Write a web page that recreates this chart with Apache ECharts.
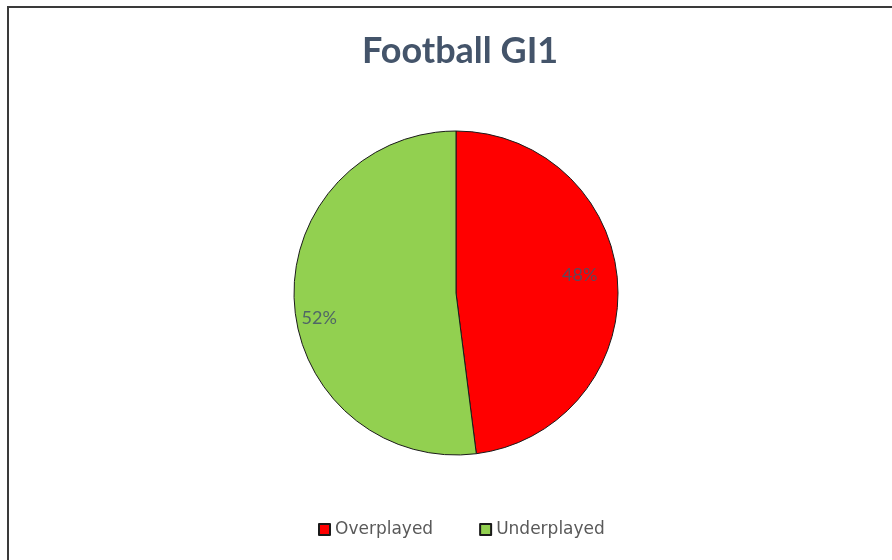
<!DOCTYPE html>
<html>
<head>
<meta charset="utf-8">
<script src="https://cdn.jsdelivr.net/npm/echarts@6/dist/echarts.min.js"></script>
<style>
  html, body { margin: 0; padding: 0; background: #fff; }
  #frame {
    position: absolute; left: 7px; top: 6px; width: 900px; height: 570px;
    border-left: 2px solid #3a3a3a; border-top: 2px solid #3a3a3a;
  }
  #chart { position: absolute; left: 0; top: 0; width: 892px; height: 560px; }
</style>
</head>
<body>
<div id="frame"></div>
<div id="chart"></div>
<script>
var categories = ['Overplayed', 'Underplayed']
var values = [48, 52]
var colors = ['#FF0000', '#92D050']

var pieData = categories.map(function (name, i) {
  return { name: name, value: values[i], itemStyle: { color: colors[i] } }
})

// small nudges so labels sit where Excel put them
var labelShift = [[-9, -9], [-4, 17]]

var myChart = echarts.init(document.getElementById('chart'))
var option = {
  animation: false,
  title: {
    text: 'Football GI1',
    left: 357,
    top: 28,
    textStyle: {
      fontFamily: 'Lato',
      fontSize: 36,
      fontWeight: 'bold',
      color: '#44546A'
    }
  },
  legend: {
    data: categories,
    bottom: 17,
    left: 313,
    icon: 'rect',
    itemWidth: 11,
    itemHeight: 11,
    itemGap: 46,
    textStyle: {
      fontFamily: 'DejaVu Sans',
      fontSize: 17,
      color: '#595959'
    }
  },
  series: [
    {
      type: 'pie',
      center: [456, 293],
      radius: [0, 162],
      startAngle: 90,
      clockwise: true,
      silent: true,
      itemStyle: { borderColor: '#1a1a1a', borderWidth: 1 },
      label: { show: false },
      labelLine: { show: false },
      data: pieData
    },
    {
      // transparent ring only to place labels further out, like Excel does
      type: 'pie',
      center: [456, 293],
      radius: [98, 162],
      startAngle: 90,
      clockwise: true,
      silent: true,
      legendHoverLink: false,
      itemStyle: { color: 'transparent', borderWidth: 0 },
      label: {
        show: true,
        position: 'inside',
        formatter: '{d}%',
        fontFamily: 'Lato',
        fontSize: 18,
        color: '#44546A',
        opacity: 0.85
      },
      labelLayout: function (params) {
        var s = labelShift[params.dataIndex]
        return { dx: s[0], dy: s[1] }
      },
      labelLine: { show: false },
      data: values.map(function (v, i) { return { name: categories[i] + ' ', value: v } })
    }
  ]
}
myChart.setOption(option)
</script>
</body>
</html>
